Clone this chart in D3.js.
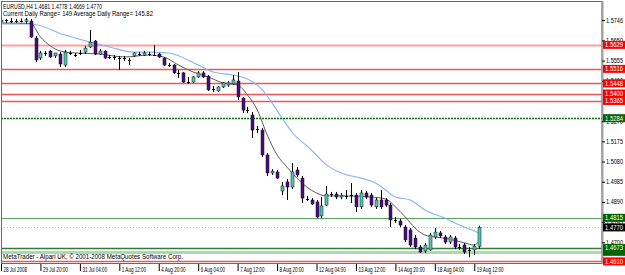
<!DOCTYPE html>
<html><head><meta charset="utf-8">
<script src="https://cdn.jsdelivr.net/npm/d3@7"></script>
<style>body{margin:0;background:#fff}svg{display:block}</style>
</head><body><svg id="c" width="625" height="275"></svg>
<script>
// ---- DATA ----
const opens = [1.5737,1.5741,1.5744,1.5741,1.5743,1.5738,1.5741,1.5661,1.5567,1.5590,
1.5600,1.5577,1.5586,1.5534,1.5592,1.5583,1.5590,1.5595,1.5619,1.5647,
1.5586,1.5600,1.5574,1.5571,1.5569,1.5566,1.5560,1.5577,1.5587,1.5581,
1.5588,1.5584,1.5586,1.5567,1.5535,1.5534,1.5498,1.5497,1.5455,1.5454,
1.5478,1.5497,1.5482,1.5422,1.5412,1.5431,1.5440,1.5445,1.5459,1.5379,
1.5324,1.5299,1.5233,1.5228,1.5111,1.5026,1.5031,1.4941,1.4984,1.4960,
1.5040,1.5002,1.4905,1.4899,1.4890,1.4824,1.4875,1.4928,1.4927,1.4913,
1.4919,1.4921,1.4922,1.4867,1.4932,1.4922,1.4867,1.4899,1.4899,1.4875,
1.4806,1.4800,1.4772,1.4758,1.4720,1.4678,1.4659,1.4664,1.4725,1.4744,
1.4725,1.4701,1.4720,1.4679,1.4687,1.4665,1.4664,1.4681];
const highs = [1.5755,1.5751,1.5755,1.5751,1.5753,1.5756,1.5751,1.5671,1.5600,1.5600,
1.5605,1.5586,1.5595,1.5605,1.5600,1.5591,1.5605,1.5624,1.5699,1.5652,
1.5610,1.5605,1.5581,1.5581,1.5577,1.5577,1.5567,1.5595,1.5595,1.5600,
1.5595,1.5628,1.5591,1.5572,1.5544,1.5539,1.5511,1.5501,1.5478,1.5482,
1.5506,1.5506,1.5487,1.5435,1.5435,1.5454,1.5459,1.5487,1.5501,1.5384,
1.5337,1.5313,1.5247,1.5238,1.5120,1.5044,1.5040,1.4984,1.4998,1.5073,
1.5054,1.5012,1.4918,1.4908,1.4899,1.4913,1.4965,1.4937,1.4937,1.4932,
1.4946,1.4979,1.4932,1.4946,1.4941,1.4932,1.4908,1.4946,1.4908,1.4885,
1.4819,1.4810,1.4781,1.4767,1.4734,1.4687,1.4697,1.4744,1.4767,1.4753,
1.4734,1.4734,1.4730,1.4692,1.4697,1.4678,1.4692,1.4778];
const lows = [1.5732,1.5732,1.5732,1.5733,1.5735,1.5731,1.5661,1.5548,1.5558,1.5577,
1.5567,1.5567,1.5525,1.5525,1.5581,1.5572,1.5581,1.5586,1.5614,1.5581,
1.5581,1.5562,1.5562,1.5558,1.5511,1.5553,1.5534,1.5572,1.5577,1.5577,
1.5577,1.5577,1.5567,1.5530,1.5525,1.5492,1.5473,1.5450,1.5445,1.5450,
1.5473,1.5473,1.5412,1.5407,1.5407,1.5426,1.5431,1.5440,1.5370,1.5308,
1.5308,1.5191,1.5214,1.5101,1.5012,1.5017,1.4998,1.4922,1.4899,1.4951,
1.5007,1.4885,1.4894,1.4875,1.4814,1.4814,1.4871,1.4913,1.4903,1.4903,
1.4903,1.4885,1.4843,1.4857,1.4903,1.4867,1.4857,1.4857,1.4867,1.4772,
1.4791,1.4772,1.4701,1.4678,1.4668,1.4650,1.4650,1.4659,1.4715,1.4720,
1.4692,1.4692,1.4668,1.4664,1.4645,1.4629,1.4640,1.4669];
const closes = [1.5746,1.5746,1.5742,1.5741,1.5740,1.5747,1.5666,1.5558,1.5591,1.5591,
1.5572,1.5591,1.5539,1.5595,1.5590,1.5580,1.5592,1.5614,1.5642,1.5586,
1.5600,1.5567,1.5572,1.5573,1.5567,1.5568,1.5557,1.5591,1.5585,1.5591,
1.5586,1.5582,1.5572,1.5534,1.5533,1.5497,1.5496,1.5454,1.5453,1.5478,
1.5497,1.5478,1.5417,1.5420,1.5431,1.5450,1.5450,1.5464,1.5384,1.5322,
1.5322,1.5228,1.5231,1.5111,1.5026,1.5035,1.5002,1.4965,1.4960,1.5031,
1.5017,1.4908,1.4903,1.4880,1.4819,1.4871,1.4927,1.4926,1.4913,1.4922,
1.4917,1.4923,1.4867,1.4932,1.4913,1.4875,1.4899,1.4867,1.4875,1.4805,
1.4804,1.4781,1.4711,1.4687,1.4678,1.4654,1.4687,1.4734,1.4748,1.4730,
1.4701,1.4725,1.4678,1.4677,1.4654,1.4663,1.4682,1.4770];

const fastMaIdx = [0,6,8,10,12,15,20,25,30,33,36,39,42,45,48,50,52,54,56,58,60,62,64,66,70,75,78,80,82,84,86,88,91,94,96,97];
const fastMaVal = [1.5732,1.5730,1.5666,1.5624,1.5600,1.5591,1.5586,1.5572,1.5581,1.5572,1.5534,1.5501,1.5478,1.5450,1.5440,1.5393,1.5322,1.5205,1.5111,1.5054,1.5002,1.4960,1.4932,1.4918,1.4918,1.4913,1.4904,1.4867,1.4819,1.4767,1.4734,1.4725,1.4715,1.4697,1.4687,1.4706];
const slowMaIdx = [0,6,13,18,22,27,30,34,40,43,47,50,53,55,57,59,63,66,69,73,76,78,80,83,86,90,93,97];
const slowMaVal = [1.5727,1.5727,1.5675,1.5642,1.5619,1.5595,1.5595,1.5591,1.5534,1.5501,1.5487,1.5468,1.5417,1.5355,1.5285,1.5219,1.5134,1.5064,1.5026,1.5002,1.4979,1.4946,1.4913,1.4899,1.4852,1.4814,1.4781,1.4744];

const timeLabelIdx = [0,8,16,24,32,40,48,56,64,72,80,88,96];
const timeLabels = ["28 Jul 2008","29 Jul 20:00","31 Jul 04:00","1 Aug 12:00","4 Aug 20:00","6 Aug 04:00","7 Aug 12:00","8 Aug 20:00","12 Aug 04:00","13 Aug 12:00","14 Aug 20:00","18 Aug 04:00","19 Aug 12:00"];
// visible price-scale ticks (those fully covered by level boxes are omitted)
const priceTicks = [1.5746,1.5650,1.5555,1.5460,1.5270,1.5175,1.5080,1.4985,1.4890,1.4795,1.4700];

const levelPrices = [1.5629,1.5516,1.5448,1.5400,1.5365,1.5284,1.4815,1.4770,1.4655,1.4673,1.4610];
const levelKinds  = ["pink","red","red","red","red","dkgreen","green","price","ltgreen","green2","red"];
const levelShowText = [true,true,true,true,true,true,true,true,false,true,true];

const headerLine1 = "EURUSD,H4  1.4681 1.4778 1.4669 1.4770";
const headerLine2 = "Current Daily Range= 149    Average Daily Range= 145.82";
const footerText = "MetaTrader - Alpari UK, \u00A9 2001-2008 MetaQuotes Software Corp.";

// ---- DRAW ----
const svg = d3.select("#c");
const FONT = "'Liberation Sans', Arial, sans-serif";
const x = d3.scaleLinear().domain([0, 97]).range([1, 479.2]);
const y = d3.scaleLinear().domain([1.4610, 1.5746]).range([261.4, 20]);

svg.append("rect").attr("width",625).attr("height",275).attr("fill","#fff");
svg.append("defs").append("clipPath").attr("id","pc")
  .append("rect").attr("x",1).attr("y",1).attr("width",601).attr("height",263);

const plot = svg.append("g").attr("clip-path","url(#pc)");

const lvlStyle = {
  pink:{s:"#ff9e9e",w:2,d:null,box:"#ff0000"},
  red:{s:"#f05656",w:1.4,d:null,box:"#ff0000"},
  dkgreen:{s:"#0b6e0b",w:1.6,d:"2,1",box:"#006400"},
  green:{s:"#5e9e5e",w:1,d:null,box:"#006400"},
  price:{s:"#b4b4b4",w:1,d:"1,2",box:"#000000"},
  ltgreen:{s:"#acd8ac",w:3,d:null,box:"#006400"},
  green2:{s:"#2f7f2f",w:1.3,d:null,box:"#006400"}
};

levelPrices.forEach((p,i)=>{
  const st = lvlStyle[levelKinds[i]];
  const yy = Math.round(y(p))+0.5;
  const l = plot.append("line").attr("x1",1).attr("x2",602).attr("y1",yy).attr("y2",yy)
    .attr("stroke",st.s).attr("stroke-width",st.w);
  if (st.d) l.attr("stroke-dasharray",st.d);
});

const line = d3.line().x(d=>x(d[0])).y(d=>y(d[1])).curve(d3.curveMonotoneX);
plot.append("path").datum(d3.zip(slowMaIdx, slowMaVal)).attr("d",line)
  .attr("fill","none").attr("stroke","#80b6f2").attr("stroke-width",1.1);
plot.append("path").datum(d3.zip(fastMaIdx, fastMaVal)).attr("d",line)
  .attr("fill","none").attr("stroke","#5a5a5a").attr("stroke-width",1);

const candles = plot.append("g");
opens.forEach((o,i)=>{
  const c = closes[i];
  const cx = Math.round(x(i));
  candles.append("line").attr("x1",cx+0.5).attr("x2",cx+0.5)
    .attr("y1",y(highs[i])).attr("y2",y(lows[i])).attr("stroke","#000").attr("stroke-width",1);
  const yt = y(Math.max(o,c)), yb = y(Math.min(o,c));
  if (yb - yt < 1.2) {
    candles.append("line").attr("x1",cx-1).attr("x2",cx+2)
      .attr("y1",Math.round(y(c))+0.5).attr("y2",Math.round(y(c))+0.5)
      .attr("stroke","#000").attr("stroke-width",1);
  } else {
    candles.append("rect").attr("x",cx-1).attr("width",3).attr("y",yt).attr("height",yb-yt)
      .attr("fill", c>o ? "#4cc8b6" : "#4b0a82").attr("stroke","#111").attr("stroke-width",0.5);
  }
});

// frame
svg.append("rect").attr("x",1.5).attr("y",1.5).attr("width",600.5).attr("height",262)
  .attr("fill","none").attr("stroke","#6a6a6a").attr("stroke-width",1);
svg.append("line").attr("x1",602.5).attr("x2",602.5).attr("y1",1).attr("y2",264)
  .attr("stroke","#a0a0a0").attr("stroke-width",2);

// header & footer
svg.append("text").attr("x",3).attr("y",8.5).text(headerLine1)
  .attr("font-family",FONT).attr("font-size",7).attr("fill","#000")
  .attr("textLength",99).attr("lengthAdjust","spacingAndGlyphs");
svg.append("text").attr("x",3).attr("y",16).text(headerLine2)
  .attr("font-family",FONT).attr("font-size",7).attr("fill","#000")
  .attr("textLength",150).attr("lengthAdjust","spacingAndGlyphs");
svg.append("text").attr("x",3).attr("y",259).text(footerText)
  .attr("font-family",FONT).attr("font-size",6.5).attr("fill","#000")
  .attr("textLength",180).attr("lengthAdjust","spacingAndGlyphs");

// price axis
const ya = svg.append("g").attr("transform","translate(602,0)")
  .call(d3.axisRight(y).tickValues(priceTicks).tickSize(3).tickPadding(1).tickFormat(d3.format(".4f")));
ya.select(".domain").remove();
ya.selectAll(".tick line").attr("stroke","#000");
ya.selectAll(".tick text").attr("font-family",FONT).attr("font-size",6.5).attr("fill","#000")
  .attr("textLength",17).attr("lengthAdjust","spacingAndGlyphs");

// time axis
const xa = svg.append("g").attr("transform","translate(0,264)")
  .call(d3.axisBottom(x).tickValues(timeLabelIdx).tickSize(7).tickPadding(0)
    .tickFormat((d,i)=>timeLabels[i]));
xa.select(".domain").remove();
xa.selectAll(".tick line").attr("stroke","#000");
xa.selectAll(".tick text").attr("font-family",FONT).attr("font-size",6.5).attr("fill","#000")
  .attr("text-anchor","start").attr("x",2).attr("y",3.5).attr("dy","0.71em")
  .each(function(){ const w=this.getComputedTextLength(); d3.select(this).attr("textLength",w*0.7).attr("lengthAdjust","spacingAndGlyphs"); });

// level label boxes
levelPrices.forEach((p,i)=>{
  const st = lvlStyle[levelKinds[i]];
  const yy = y(p);
  svg.append("rect").attr("x",603).attr("y",yy-4).attr("width",22).attr("height",8).attr("fill",st.box);
  if (levelShowText[i]) {
    svg.append("text").attr("x",605).attr("y",yy+2.4).text(d3.format(".4f")(p))
      .attr("font-family",FONT).attr("font-size",6.5).attr("fill","#fff")
      .attr("textLength",18).attr("lengthAdjust","spacingAndGlyphs");
  }
});
</script></body></html>
